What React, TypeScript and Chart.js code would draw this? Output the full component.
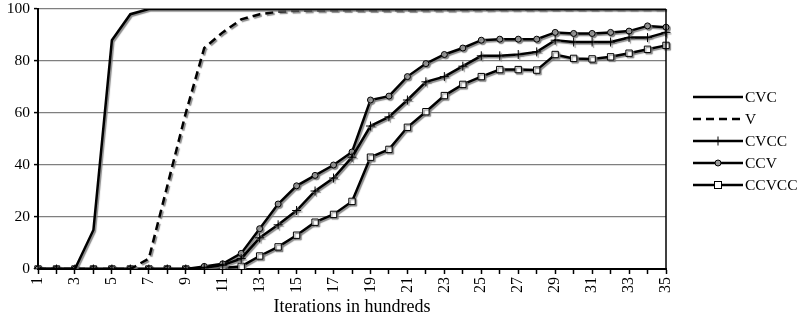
import React, { useEffect, useRef } from "react";
import { Chart, registerables } from "chart.js";

Chart.register(...registerables);

const categories = ["1","2","3","4","5","6","7","8","9","10","11","12","13","14","15","16","17","18","19","20","21","22","23","24","25","26","27","28","29","30","31","32","33","34","35"];

const cvc = [0,0,0,15,88,98,100,100,100,100,100,100,100,100,100,100,100,100,100,100,100,100,100,100,100,100,100,100,100,100,100,100,100,100,100];
const v = [0,0,0,0,0,0,4,32,60,85,91,96,98,99,99.3,99.4,99.5,99.5,99.5,99.5,99.5,99.6,99.6,99.7,99.7,99.8,99.8,99.8,99.9,99.9,99.9,100,100,100,100];
const cvcc = [0,0,0,0,0,0,0,0,0,0.5,1.5,4,12,17,22.5,30,35,43,55,58.5,65,72,74,78,82,82,82.5,83.5,88,87.3,87.3,87.3,89,89,91];
const ccv = [0,0,0,0,0,0,0,0,0,1,2,6,15.5,25,32,36,40,45,65,66.5,74,79,82.5,85,88,88.4,88.4,88.4,91,90.6,90.6,91,91.5,93.5,93];
const ccvcc = [0,0,0,0,0,0,0,0,0,0,0.5,1,5,8.5,13,18,21,26,43,46,54.5,60.5,66.7,71,74,76.7,76.7,76.5,82.5,81,80.8,81.6,83,84.5,86];

const seriesNames = ["CVC", "V", "CVCC", "CCV", "CCVCC"];
const yTicks = [0, 20, 40, 60, 80, 100];

const FONT = "'Liberation Serif', 'Times New Roman', serif";

type MarkerKind = "none" | "cross" | "circle" | "rect";
const markerKinds: MarkerKind[] = ["none", "none", "cross", "circle", "rect"];

function drawMarker(ctx: CanvasRenderingContext2D, kind: MarkerKind, x: number, y: number) {
  ctx.save();
  ctx.setLineDash([]);
  ctx.strokeStyle = "#000";
  ctx.lineWidth = 1;
  if (kind === "cross") {
    ctx.beginPath();
    ctx.moveTo(x, y - 4.5);
    ctx.lineTo(x, y + 4.5);
    ctx.moveTo(x - 4.5, y);
    ctx.lineTo(x + 4.5, y);
    ctx.stroke();
  } else if (kind === "circle") {
    ctx.fillStyle = "#999";
    ctx.beginPath();
    ctx.arc(x, y, 3, 0, Math.PI * 2);
    ctx.fill();
    ctx.stroke();
  } else if (kind === "rect") {
    ctx.fillStyle = "#fff";
    ctx.fillRect(x - 3.5, y - 3.5, 7, 7);
    ctx.strokeRect(x - 3.5, y - 3.5, 7, 7);
  }
  ctx.restore();
}

const shadowPlugin = {
  id: "shadowPlugin",
  beforeDatasetsDraw(chart: any) {
    const ctx = chart.ctx;
    ctx.save();
    ctx.shadowColor = "rgba(120,120,120,0.85)";
    ctx.shadowOffsetX = 1.5;
    ctx.shadowOffsetY = 1.5;
    ctx.shadowBlur = 1;
  },
  afterDatasetsDraw(chart: any) {
    chart.ctx.restore();
  },
};

const framePlugin = {
  id: "framePlugin",
  afterDraw(chart: any) {
    const ctx = chart.ctx as CanvasRenderingContext2D;
    const a = chart.chartArea;
    ctx.save();
    ctx.strokeStyle = "#000";
    ctx.lineWidth = 1.5;
    ctx.beginPath();
    ctx.moveTo(a.right, a.top);
    ctx.lineTo(a.right, a.bottom);
    ctx.stroke();
    ctx.restore();

    // legend
    const x0 = 693, x1 = 743, tx = 745, y0 = 97, dy = 22;
    chart.data.datasets.forEach((ds: any, i: number) => {
      const y = y0 + i * dy;
      ctx.save();
      ctx.strokeStyle = "#000";
      ctx.lineWidth = 2.5;
      ctx.setLineDash(ds.borderDash || []);
      ctx.beginPath();
      ctx.moveTo(x0, y);
      ctx.lineTo(x1, y);
      ctx.stroke();
      ctx.restore();
      drawMarker(ctx, markerKinds[i], (x0 + x1) / 2, y);
      ctx.save();
      ctx.fillStyle = "#000";
      ctx.font = `15.5px ${FONT}`;
      ctx.textBaseline = "middle";
      ctx.textAlign = "left";
      ctx.fillText(ds.label, tx, y + 1);
      ctx.restore();
    });
  },
};

export default function App() {
  const ref = useRef<HTMLCanvasElement | null>(null);

  useEffect(() => {
    if (!ref.current) return;
    const mk = (i: number, data: number[]) => {
      const kind = markerKinds[i];
      const base: any = {
        label: seriesNames[i],
        data,
        borderColor: "#000",
        borderWidth: 2.5,
        tension: 0,
        fill: false,
        pointBorderColor: "#000",
        pointBorderWidth: 1,
      };
      if (kind === "none") {
        base.pointRadius = 0;
      } else if (kind === "cross") {
        base.pointStyle = "cross";
        base.pointRadius = 4.5;
        base.pointBackgroundColor = "#000";
      } else if (kind === "circle") {
        base.pointStyle = "circle";
        base.pointRadius = 3;
        base.pointBackgroundColor = "#999";
      } else {
        base.pointStyle = "rect";
        base.pointRadius = 4.5;
        base.pointBackgroundColor = "#fff";
      }
      return base;
    };
    const datasets = [mk(0, cvc), { ...mk(1, v), borderDash: [8, 5] }, mk(2, cvcc), mk(3, ccv), mk(4, ccvcc)];
    datasets.forEach((d: any, i: number) => (d.order = i));

    const chart = new Chart(ref.current, {
      type: "line",
      data: { labels: categories, datasets },
      options: {
        animation: false,
        responsive: false,
        maintainAspectRatio: false,
        layout: { padding: { left: 0, right: 142, top: 9, bottom: 0 } },
        plugins: { legend: { display: false }, tooltip: { enabled: false } },
        scales: {
          x: {
            offset: false,
            afterFit: (s: any) => { s.height = 53; s.paddingLeft = 0; s.paddingRight = 0; },
            grid: { display: true, drawOnChartArea: false, drawTicks: true, tickLength: 5, tickColor: "#000", tickWidth: 1.5 },
            border: { color: "#000", width: 2 },
            ticks: {
              autoSkip: false,
              maxRotation: 90,
              minRotation: 90,
              padding: 3,
              color: "#000",
              font: { family: FONT, size: 16 },
              callback: (_v: any, idx: number) => (idx % 2 === 0 ? categories[idx] : ""),
            },
            title: {
              display: true,
              text: "Iterations in hundreds",
              color: "#000",
              font: { family: FONT, size: 18 },
              padding: { top: 0, bottom: 4 },
            },
          },
          y: {
            min: 0,
            max: 100,
            afterFit: (s: any) => { s.width = 38; s.paddingTop = 0; s.paddingBottom = 0; },
            afterBuildTicks: (s: any) => { s.ticks = yTicks.map((t) => ({ value: t })); },
            grid: { color: "#7f7f7f", lineWidth: 1.2, tickLength: 4, tickColor: "#000", tickWidth: 1.5 },
            border: { color: "#000", width: 2 },
            ticks: {
              color: "#000",
              padding: 4,
              font: { family: FONT, size: 15.5 },
            },
          },
        },
      },
      plugins: [shadowPlugin, framePlugin],
    } as any);
    return () => chart.destroy();
  }, []);

  return (
    <div style={{ position: "absolute", left: 0, top: 0, width: 808, height: 322, background: "#fff" }}>
      <canvas ref={ref} width={808} height={322} style={{ width: 808, height: 322 }} />
    </div>
  );
}
